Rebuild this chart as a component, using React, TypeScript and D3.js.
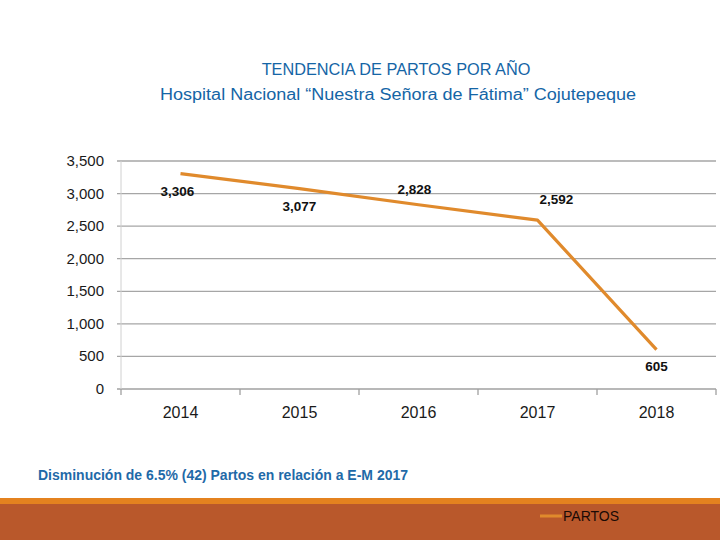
import React from "react";
import * as d3 from "d3";

const years = ["2014", "2015", "2016", "2017", "2018"];
const partos = [3306, 3077, 2828, 2592, 605];
const yTicks = [0, 500, 1000, 1500, 2000, 2500, 3000, 3500];
// label offsets (dx, dy) from each point, as in the source slide
const labelOffsets = [
  [-3, 22],
  [0, 22],
  [-4, -11],
  [19, -16],
  [0, 21],
];

const W = 720;
const H = 540;
const margin = { top: 161, right: 4, bottom: 151, left: 121 };
const font = "'Liberation Sans', Arial, sans-serif";

const App = () => {
  const x = d3
    .scaleBand<string>()
    .domain(years)
    .range([margin.left, W - margin.right]);
  const y = d3
    .scaleLinear()
    .domain([0, 3500])
    .range([H - margin.bottom, margin.top]);

  const line = d3
    .line<number>()
    .x((_, i) => (x(years[i]) as number) + x.bandwidth() / 2)
    .y((d) => y(d));

  const fmt = d3.format(",");
  const edges = [...years.map((yr) => x(yr) as number), W - margin.right];

  return (
    <svg
      width={W}
      height={H}
      style={{ position: "absolute", left: 0, top: 0, background: "#fff" }}
    >
      <text
        x={396}
        y={75}
        textAnchor="middle"
        fontFamily={font}
        fontSize={16.3}
        fill="#1565a6"
      >
        TENDENCIA DE PARTOS POR AÑO
      </text>
      <text
        x={398}
        y={100}
        textAnchor="middle"
        fontFamily={font}
        fontSize={16}
        fill="#1565a6"
        textLength={476}
        lengthAdjust="spacingAndGlyphs"
      >
        Hospital Nacional “Nuestra Señora de Fátima” Cojutepeque
      </text>

      {yTicks.map((t) => (
        <g key={t}>
          <line
            x1={margin.left - 4}
            x2={W - margin.right}
            y1={y(t)}
            y2={y(t)}
            stroke={t === 0 ? "#a0a0a0" : "#a6a6a6"}
            strokeWidth={1.3}
          />
          <text
            x={104}
            y={y(t) + 5}
            textAnchor="end"
            fontFamily={font}
            fontSize={15}
            fill="#1a1a1a"
          >
            {fmt(t)}
          </text>
        </g>
      ))}
      <line
        x1={margin.left}
        x2={margin.left}
        y1={y(3500)}
        y2={y(0)}
        stroke="#d0d0d0"
        strokeWidth={1}
      />
      {edges.map((e, i) => (
        <line
          key={i}
          x1={e}
          x2={e}
          y1={y(0)}
          y2={y(0) + 6}
          stroke="#a0a0a0"
          strokeWidth={1.3}
        />
      ))}
      {years.map((yr) => (
        <text
          key={yr}
          x={(x(yr) as number) + x.bandwidth() / 2}
          y={418}
          textAnchor="middle"
          fontFamily={font}
          fontSize={16}
          fill="#1a1a1a"
        >
          {yr}
        </text>
      ))}

      <path
        d={line(partos) ?? ""}
        fill="none"
        stroke="#e08a2c"
        strokeWidth={3.2}
        strokeLinejoin="round"
      />
      {partos.map((v, i) => (
        <text
          key={i}
          x={(x(years[i]) as number) + x.bandwidth() / 2 + labelOffsets[i][0]}
          y={y(v) + labelOffsets[i][1]}
          textAnchor="middle"
          fontFamily={font}
          fontSize={13.5}
          fontWeight="bold"
          fill="#111"
        >
          {fmt(v)}
        </text>
      ))}

      <text
        x={38}
        y={480}
        fontFamily={font}
        fontSize={14}
        fontWeight="bold"
        fill="#1f6aa8"
        textLength={370}
        lengthAdjust="spacingAndGlyphs"
      >
        Disminución de 6.5% (42) Partos en relación a E-M 2017
      </text>

      <rect x={0} y={498} width={W} height={6} fill="#e4821f" />
      <rect x={0} y={504} width={W} height={36} fill="#b9582b" />
      <line x1={540} x2={562} y1={516} y2={516} stroke="#e08a2c" strokeWidth={3} />
      <text x={563} y={521} fontFamily={font} fontSize={14} fill="#1a0a05">
        PARTOS
      </text>
    </svg>
  );
};

export default App;
